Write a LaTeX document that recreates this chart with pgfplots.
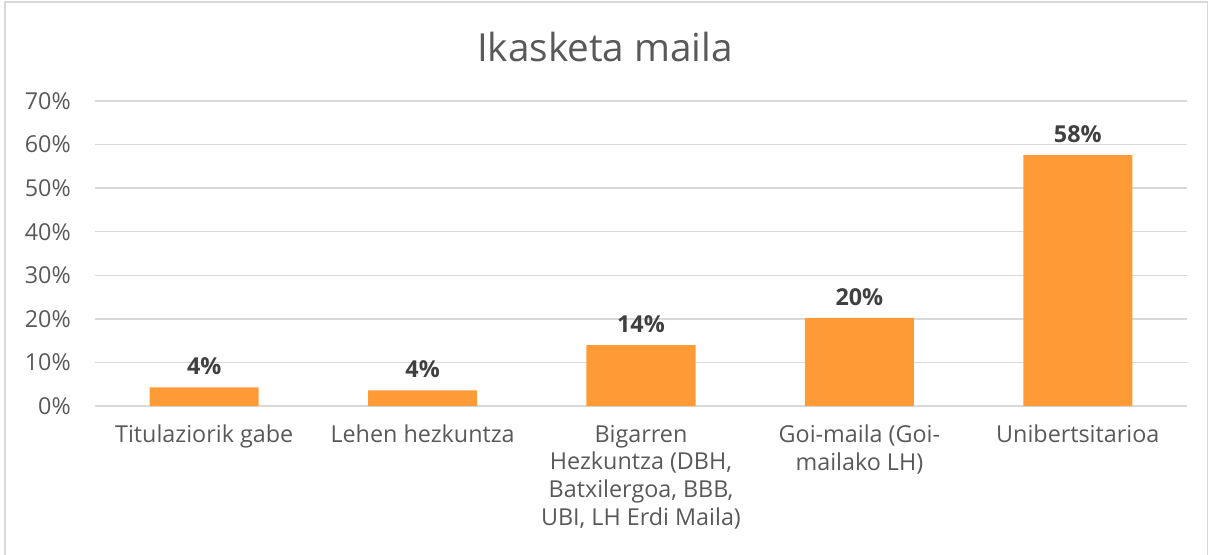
\documentclass[border=0pt]{standalone}
\usepackage{pgfplots}
\pgfplotsset{compat=1.18}
\usepackage{fontspec}
\setmainfont{Open Sans}
\definecolor{barorange}{RGB}{255,155,55}
\definecolor{txtgray}{HTML}{595959}
\definecolor{lblgray}{HTML}{404040}
\definecolor{gridgray}{HTML}{D9D9D9}
\begin{document}
\begin{tikzpicture}
\path[use as bounding box] (0,0) rectangle (908.25pt,415.5pt);
\draw[gridgray, line width=0.8pt] (3.75pt,-5pt) rectangle (905.5pt,414pt);
\node[font=\fontsize{29}{34}\selectfont, text=txtgray] at (453.75pt,380.25pt) {Ikasketa maila};
\begin{axis}[
  at={(71.25pt,111pt)}, anchor=south west,
  scale only axis,
  width=819pt, height=228.75pt,
  xmin=-0.5, xmax=4.5,
  ymin=0, ymax=70,
  ytick={0,10,...,70},
  yticklabel={\pgfmathprintnumber{\tick}\%},
  xtick=data,
  xticklabels={{Titulaziorik gabe},{Lehen hezkuntza},{Bigarren\\Hezkuntza (DBH,\\Batxilergoa, BBB,\\UBI, LH Erdi Maila)},{Goi-maila (Goi-\\mailako LH)},{Unibertsitarioa}},
  /pgf/number format/assume math mode=true,
  axis line style={draw=none},
  major tick length=0pt,
  ymajorgrids,
  major grid style={gridgray, line width=1.1pt},
  ticklabel style={font=\fontsize{17.5}{20.8}\selectfont, text=txtgray},
  yticklabel style={inner sep=0pt, xshift=-18pt},
  xticklabel style={align=center, inner sep=0pt, yshift=-14pt},
  ybar, bar width=81.75pt,
  nodes near coords={\pgfmathprintnumber[fixed,precision=0]{\pgfplotspointmeta}\%},
  nodes near coords style={font=\fontsize{17.5}{20}\selectfont\bfseries, text=lblgray, yshift=6pt},
  clip=false,
]
\addplot[fill=barorange, draw=none] coordinates {(0,4.3) (1,3.6) (2,14.0) (3,20.2) (4,57.6)};
\end{axis}
\end{tikzpicture}
\end{document}
